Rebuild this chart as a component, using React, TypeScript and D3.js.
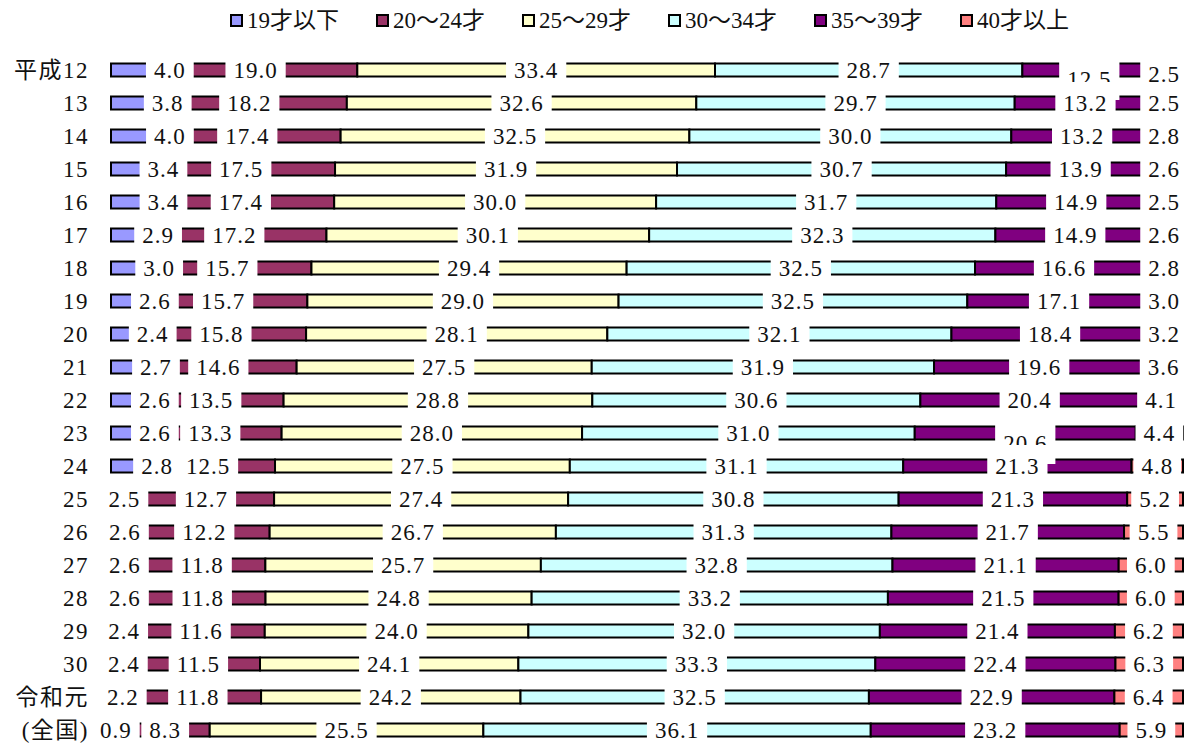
import React, { useEffect, useRef } from 'react';
import * as d3 from 'd3';

const categories = [
  '平成12', '13', '14', '15', '16', '17', '18', '19', '20', '21', '22',
  '23', '24', '25', '26', '27', '28', '29', '30', '令和元', '(全国)',
];
const seriesNames = ['19才以下', '20～24才', '25～29才', '30～34才', '35～39才', '40才以上'];
const colors = ['#9999FF', '#993366', '#FFFFCC', '#CCFFFF', '#800080', '#FF8080'];

const under19 = [4.0, 3.8, 4.0, 3.4, 3.4, 2.9, 3.0, 2.6, 2.4, 2.7, 2.6, 2.6, 2.8, 2.5, 2.6, 2.6, 2.6, 2.4, 2.4, 2.2, 0.9];
const age20to24 = [19.0, 18.2, 17.4, 17.5, 17.4, 17.2, 15.7, 15.7, 15.8, 14.6, 13.5, 13.3, 12.5, 12.7, 12.2, 11.8, 11.8, 11.6, 11.5, 11.8, 8.3];
const age25to29 = [33.4, 32.6, 32.5, 31.9, 30.0, 30.1, 29.4, 29.0, 28.1, 27.5, 28.8, 28.0, 27.5, 27.4, 26.7, 25.7, 24.8, 24.0, 24.1, 24.2, 25.5];
const age30to34 = [28.7, 29.7, 30.0, 30.7, 31.7, 32.3, 32.5, 32.5, 32.1, 31.9, 30.6, 31.0, 31.1, 30.8, 31.3, 32.8, 33.2, 32.0, 33.3, 32.5, 36.1];
const age35to39 = [12.5, 13.2, 13.2, 13.9, 14.9, 14.9, 16.6, 17.1, 18.4, 19.6, 20.4, 20.6, 21.3, 21.3, 21.7, 21.1, 21.5, 21.4, 22.4, 22.9, 23.2];
const over40 = [2.5, 2.5, 2.8, 2.6, 2.5, 2.6, 2.8, 3.0, 3.2, 3.6, 4.1, 4.4, 4.8, 5.2, 5.5, 6.0, 6.0, 6.2, 6.3, 6.4, 5.9];

const seriesValues = [under19, age20to24, age25to29, age30to34, age35to39, over40];

const W = 1195;
const H = 746;
const FONT = "'Liberation Serif', 'Noto Sans CJK JP', serif";

export default function App() {
  const ref = useRef<SVGSVGElement>(null);

  useEffect(() => {
    const svg = d3.select(ref.current);
    svg.selectAll('*').remove();

    const table = categories.map((c, i) => {
      const row: any = { cat: c };
      seriesNames.forEach((s, k) => (row[s] = seriesValues[k][i]));
      return row;
    });
    const stacked = d3.stack().keys(seriesNames).offset(d3.stackOffsetExpand)(table);

    const x = d3.scaleLinear().domain([0, 1]).range([111, 1183]);
    const y = d3.scaleBand().domain(categories).range([53.5, 746.5]).padding(0);
    const cy = (c: string) => (y(c) as number) + y.bandwidth() / 2;
    const barH = 13;

    // bars
    stacked.forEach((layer, k) => {
      svg.append('g')
        .selectAll('rect')
        .data(layer)
        .enter()
        .append('rect')
        .attr('x', d => x(d[0]))
        .attr('y', d => cy(d.data.cat) - barH / 2)
        .attr('width', d => x(d[1]) - x(d[0]))
        .attr('height', barH)
        .attr('fill', colors[k])
        .attr('stroke', '#000')
        .attr('stroke-width', 2);
    });

    // data labels with white boxes, series by series, top to bottom
    const lblG = svg.append('g');
    stacked.forEach((layer, k) => {
      layer.forEach((d, i) => {
        const v = seriesValues[k][i];
        let cx = (x(d[0]) + x(d[1])) / 2;
        if (k === 0 && i < 13) cx = x(d[1]) + 16;
        let dy = 0;
        if (i === 0 && k === 4) dy = 9;
        if (i === 0 && k === 5) dy = 4;
        if (i === 11 && k === 4) dy = 10;
        const g = lblG.append('g');
        const rect = g.append('rect').attr('fill', '#fff');
        const t = g.append('text')
          .attr('text-anchor', 'middle')
          .attr('font-family', FONT)
          .attr('font-size', 23)
          .attr('letter-spacing', 1)
          .attr('fill', '#111')
          .text(v.toFixed(1));
        const tw = (t.node() as SVGTextElement).getComputedTextLength();
        if (k === 5) cx = Math.min(cx, 1180 - tw / 2);
        const ty = cy(d.data.cat) + dy;
        t.attr('x', cx).attr('y', ty + 7.8);
        rect.attr('x', cx - tw / 2 - 8).attr('width', tw + 16)
          .attr('y', ty - 21).attr('height', 42);
      });
    });

    // category labels
    svg.append('g')
      .selectAll('text')
      .data(categories)
      .enter()
      .append('text')
      .attr('x', 89)
      .attr('y', c => cy(c) + 7.8)
      .attr('text-anchor', 'end')
      .attr('font-family', FONT)
      .attr('font-size', 23)
      .attr('letter-spacing', 1.5)
      .attr('fill', '#111')
      .text(c => c);

    // legend
    const legendX = d3.scaleLinear().domain([0, seriesNames.length - 1]).range([230, 960]);
    const lg = svg.append('g')
      .selectAll('g')
      .data(seriesNames)
      .enter()
      .append('g')
      .attr('transform', (_, k) => `translate(${legendX(k)},20)`);
    lg.append('rect')
      .attr('x', 1).attr('y', -5).attr('width', 11).attr('height', 11)
      .attr('fill', (_, k) => colors[k])
      .attr('stroke', '#000').attr('stroke-width', 2);
    lg.append('text')
      .attr('x', 17).attr('y', 8)
      .attr('font-family', FONT)
      .attr('font-size', 23)
      .attr('fill', '#111')
      .text(s => s);
  }, []);

  return (
    <svg
      ref={ref}
      width={W}
      height={H}
      style={{ position: 'absolute', left: 0, top: 0, background: '#fff' }}
    />
  );
}
